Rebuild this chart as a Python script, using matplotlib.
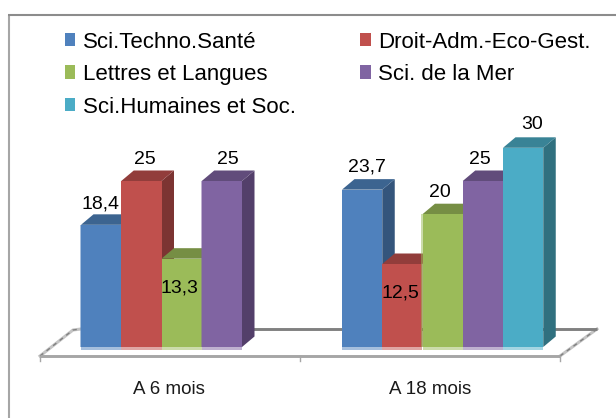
import matplotlib
matplotlib.use("Agg")
import matplotlib.pyplot as plt
from matplotlib.patches import Polygon, Rectangle, Patch

plt.rcParams['font.family'] = ['Liberation Sans', 'DejaVu Sans']

categories = ["A 6 mois", "A 18 mois"]
series_names = ["Sci.Techno.Santé", "Droit-Adm.-Eco-Gest.", "Lettres et Langues",
                "Sci. de la Mer", "Sci.Humaines et Soc."]
sci_techno = [18.4, 23.7]
droit = [25, 12.5]
lettres = [13.3, 20]
mer = [25, 25]
humaines = [None, 30]
series_values = [sci_techno, droit, lettres, mer, humaines]
value_labels = [["18,4", "23,7"], ["25", "12,5"], ["13,3", "20"], ["25", "25"], [None, "30"]]
front = ["#4F81BD", "#C0504D", "#9BBB59", "#8064A2", "#4BACC6"]
top = ["#3C6490", "#923D3B", "#768E44", "#614C7B", "#398396"]
side = ["#34557C", "#7C3432", "#65793A", "#533F6A", "#30707F"]

W, H = 616, 418
BAR = 40.25
UNIT = 6.64
Y0PX = 347
GROUP_X = [81, 342]
DX, DY = 12.5, 10.5
# label offsets in pixels: (right of bar centre, above bar top)
nudges = {(0, 0): (-1, 21), (1, 0): (3.5, 21), (2, 0): (-2.5, -29), (3, 0): (5.5, 21),
          (0, 1): (5, 22.6), (1, 1): (-2, -29), (2, 1): (-2.5, 22), (3, 1): (-2.6, 21), (4, 1): (9, 23)}
pale_edges = {(0, 0), (3, 0), (2, 1)}

fig = plt.figure(figsize=(W/100, H/100), dpi=100)
px = fig.add_axes([0, 0, 1, 1])
px.set_xlim(0, W); px.set_ylim(H, 0); px.axis("off")

# chart frame: only the left and top edges fall inside the picture
px.plot([9, 9], [H, 14.5], color="#A6A6A6", lw=1.5, solid_capstyle="butt")
px.plot([8.2, W], [14.5, 14.5], color="#8C8C8C", lw=1.5, solid_capstyle="butt")

# floor
for xs, ys in [([40, 73, 81], [356, 330, 329]), ([560, 597], [356, 329])]:
    px.plot(xs, ys, color="#C4C4C4", lw=2.2)
    px.plot(xs, ys, color="#808080", lw=1, ls=(0, (3, 3)))
px.plot([81, 597], [329, 329], color="#808080", lw=2.1, solid_capstyle="butt")
px.plot([40, 560], [356.3, 356.3], color="#A6A6A6", lw=2.1, solid_capstyle="butt")
for x in [40, 300, 560]:
    px.plot([x, x], [356, 361], color="#A6A6A6", lw=1)

# value axes: x in bar widths from the first group, y in data units
ax = fig.add_axes([0, 0, 1, 1], facecolor="none")
ax.set_xlim(-GROUP_X[0]/BAR, (W-GROUP_X[0])/BAR)
ax.set_ylim(-(H-Y0PX)/UNIT, Y0PX/UNIT)
ax.axis("off")
dx, dy = DX/BAR, DY/UNIT
group_off = [0, (GROUP_X[1]-GROUP_X[0])/BAR]

for s, vals in enumerate(series_values):
    for g, v in enumerate(vals):
        if v is None:
            continue
        x0 = group_off[g] + s
        x1 = x0 + 1
        z = 2 + s
        ax.add_patch(Polygon([(x1, 0), (x1+dx, dy), (x1+dx, v+dy), (x1, v)], fc=side[s], ec="none", zorder=z))
        ax.add_patch(Polygon([(x0, v), (x0+dx, v+dy), (x1+dx, v+dy), (x1, v)], fc=top[s], ec="none", zorder=z))
        ax.add_patch(Rectangle((x0, 0), 1, v, fc=front[s], ec="none", zorder=z))
        ax.add_patch(Rectangle((x0, -0.45), 1, 0.45, fc=front[s], alpha=0.5, ec="none", zorder=z))
        if (s, g) in pale_edges:
            ax.add_patch(Rectangle((x0-0.03, 0), 0.03, v, fc=front[s], alpha=0.5, ec="none", zorder=z))
        ox, oy = nudges[(s, g)]
        ax.text(x0 + 0.5 + ox/BAR, v + oy/UNIT, value_labels[s][g], ha="center", va="center",
                fontsize=14, color="black", zorder=20)

for cx, c in zip([169, 430], categories):
    px.text(cx, 389, c, ha="center", va="center", fontsize=13.5, color="#1a1a1a")

order = [0, 2, 4, 1, 3]
handles = [Patch(fc=front[i], ec="none") for i in order]
labels = [series_names[i] for i in order]
ax.legend(handles, labels, ncol=2, loc="upper left", bbox_to_anchor=(65/W, 1-31.5/H),
          frameon=False, fontsize=16, handlelength=0.47, handleheight=0.55,
          handletextpad=0.33, columnspacing=2.9, labelspacing=0.52, borderpad=0, borderaxespad=0)
fig.savefig("out.png", dpi=100)
